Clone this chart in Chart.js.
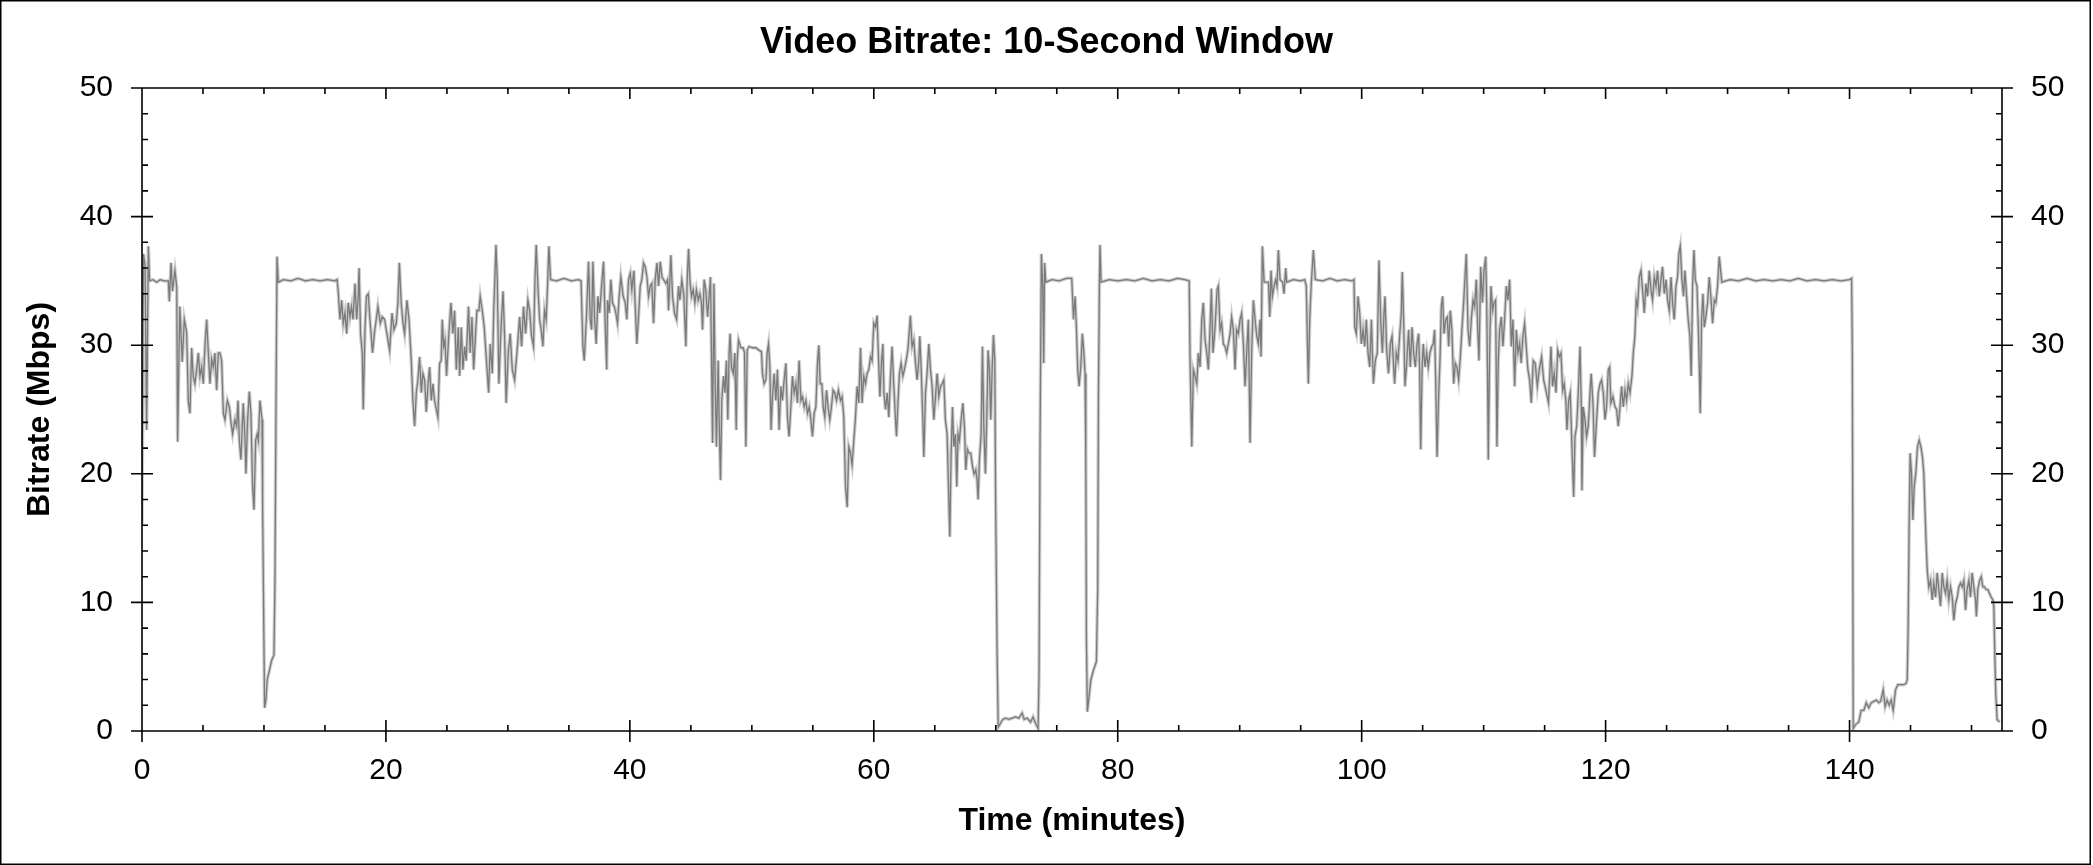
<!DOCTYPE html>
<html>
<head>
<meta charset="utf-8">
<title>Video Bitrate: 10-Second Window</title>
<script src="https://cdn.jsdelivr.net/npm/chart.js@4.4.1/dist/chart.umd.min.js"></script>
<style>
  html, body { margin: 0; padding: 0; background: #fff; }
  #bitrateChart { display: block; }
</style>
</head>
<body>
<canvas id="bitrateChart" width="2093" height="865"></canvas>
<script>
// [minute, Mbps]
const bitrateTrace = [
  [0.00,16.0],[0.12,37.1],[0.25,36.2],[0.38,23.4],[0.52,37.7],[0.62,35.0],[0.9,35.1],[1.2,34.9],[1.5,35.1],[1.8,35.0],
  [2.16,35.0],[2.24,33.4],[2.38,36.4],[2.5,34.2],[2.7,35.8],[2.85,34.5],[2.92,22.5],[3.1,33.0],[3.3,28.7],[3.47,32.0],
  [3.66,31.0],[3.8,25.6],[3.93,24.7],[4.07,29.8],[4.2,27.6],[4.34,27.0],[4.48,28.1],[4.62,29.4],[4.75,27.6],[4.89,28.3],
  [5.03,27.0],[5.16,29.9],[5.3,32.0],[5.44,29.4],[5.57,27.0],[5.71,28.9],[5.85,28.3],[5.98,29.4],[6.12,26.5],[6.26,29.4],
  [6.39,29.4],[6.53,28.8],[6.67,24.7],[6.8,24.2],[7.0,25.7],[7.16,25.2],[7.27,24.2],[7.43,23.1],[7.62,24.2],[7.76,23.7],
  [7.87,25.7],[7.98,22.6],[8.11,21.1],[8.3,25.5],[8.44,22.9],[8.52,20.0],[8.66,24.2],[8.8,26.4],[8.93,24.7],[9.07,19.0],
  [9.18,17.2],[9.32,22.6],[9.45,23.1],[9.54,22.6],[9.67,25.7],[9.84,24.2],[9.89,17.4],[10.0,6.6],[10.05,1.8],[10.16,2.4],
  [10.27,4.0],[10.44,4.7],[10.63,5.5],[10.82,5.9],[10.9,11.5],[10.98,24.2],[11.07,36.9],[11.17,34.9],
  [11.6,35.1],[12.2,35.0],[12.8,35.2],[13.4,35.0],[14.0,35.1],[14.6,35.0],[15.2,35.1],[15.8,35.0],[16.0,35.1],
  [16.1,34.0],[16.23,32.0],[16.37,33.5],[16.5,31.7],[16.64,32.5],[16.78,30.9],[16.91,33.3],[17.05,32.2],[17.18,33.0],[17.3,32.0],
  [17.46,34.8],[17.6,32.0],[17.73,33.8],[17.8,36.0],[17.92,30.9],[18.06,29.4],[18.14,25.0],[18.28,31.2],[18.4,33.8],[18.55,34.0],
  [18.69,32.0],[18.9,29.4],[19.05,30.9],[19.34,33.0],[19.54,31.7],[19.7,32.2],[19.89,32.0],[20.08,30.9],[20.3,29.6],[20.5,32.5],
  [20.66,31.2],[20.85,31.7],[20.98,33.3],[21.1,36.4],[21.25,33.3],[21.4,31.7],[21.53,30.9],[21.72,33.5],[21.89,32.0],[22.08,28.8],
  [22.21,25.7],[22.35,23.7],[22.49,26.3],[22.62,27.3],[22.76,29.1],[22.9,26.3],[23.03,27.8],[23.17,27.3],[23.31,24.8],[23.44,26.8],
  [23.58,28.3],[23.72,25.7],[23.85,27.0],[23.99,25.7],[24.13,25.0],[24.26,24.4],[24.4,28.6],[24.53,28.8],[24.62,32.0],[24.73,29.9],
  [24.84,30.4],[24.97,27.6],[25.16,30.9],[25.33,33.3],[25.49,30.9],[25.63,32.7],[25.77,28.1],[25.93,31.4],[26.04,27.6],[26.18,31.4],
  [26.31,28.1],[26.45,29.9],[26.58,28.8],[26.77,33.0],[26.91,29.4],[27.05,32.2],[27.19,28.1],[27.35,30.9],[27.46,32.7],[27.62,32.7],
  [27.73,33.8],[27.9,32.7],[28.06,31.4],[28.22,29.1],[28.42,26.3],[28.55,30.1],[28.72,27.8],[28.85,33.0],[28.93,35.1],[29.02,37.8],
  [29.13,35.1],[29.26,27.0],[29.43,31.2],[29.6,34.2],[29.73,30.7],[29.86,25.5],[30.03,29.4],[30.19,30.9],[30.36,28.1],[30.55,27.3],
  [30.74,29.4],[30.96,32.2],[31.12,29.9],[31.28,33.0],[31.45,30.9],[31.64,33.5],[31.78,32.7],[31.94,30.7],[32.1,29.9],[32.21,34.8],
  [32.32,37.8],[32.46,34.6],[32.6,32.0],[32.73,31.2],[32.87,29.9],[33.0,32.7],[33.14,32.0],[33.25,34.6],[33.36,37.7],[33.5,35.1],
  [34.0,35.0],[34.6,35.2],[35.2,35.0],[35.8,35.1],[36.0,35.0],
  [36.15,29.9],[36.26,28.8],[36.43,32.0],[36.61,36.5],[36.75,32.0],[36.86,31.2],[36.97,36.5],[37.11,32.0],[37.24,30.1],[37.38,33.8],
  [37.52,32.5],[37.68,34.6],[37.84,36.5],[38.0,30.9],[38.1,28.1],[38.17,33.5],[38.31,32.5],[38.44,35.1],[38.58,33.3],[38.72,33.0],
  [38.85,32.5],[38.99,31.7],[39.12,33.8],[39.26,35.3],[39.45,33.8],[39.62,33.3],[39.75,32.0],[39.89,35.1],[40.03,35.6],[40.16,34.3],
  [40.33,35.8],[40.44,33.0],[40.57,30.1],[40.71,32.2],[40.85,34.6],[40.98,35.1],[41.12,36.4],[41.26,36.1],[41.4,35.3],[41.53,33.8],
  [41.67,34.6],[41.8,34.8],[41.94,31.7],[42.08,35.1],[42.22,36.4],[42.35,34.6],[42.49,36.5],[42.63,35.3],[42.76,35.1],[42.95,34.8],
  [43.09,35.1],[43.17,32.7],[43.36,37.0],[43.5,33.8],[43.66,32.5],[43.83,32.0],[43.99,34.6],[44.1,33.5],[44.26,35.1],[44.43,33.8],
  [44.59,29.9],[44.7,35.1],[44.81,37.5],[44.92,35.1],[45.05,33.8],[45.19,34.3],[45.33,33.3],[45.46,34.3],[45.6,33.5],[45.74,34.0],
  [45.87,33.3],[45.96,31.2],[46.09,35.1],[46.23,34.3],[46.37,32.2],[46.5,33.8],[46.61,35.3],[46.69,29.4],[46.78,22.4],[46.89,34.8],
  [47.0,26.8],[47.1,22.1],[47.24,28.8],[47.32,24.2],[47.43,19.5],[47.54,25.7],[47.68,27.6],[47.79,26.3],[47.92,28.8],[48.03,24.2],
  [48.14,29.4],[48.22,30.9],[48.33,28.3],[48.47,27.8],[48.61,29.4],[48.72,23.4],[48.8,28.8],[48.91,30.4],[49.1,29.8],[49.29,29.8],
  [49.4,29.4],[49.51,22.1],[49.62,29.6],[49.77,29.9],[50.05,29.8],[50.33,29.8],[50.6,29.6],[50.79,29.5],[50.87,27.8],[51.01,27.0],
  [51.15,27.3],[51.26,29.4],[51.37,30.1],[51.48,28.3],[51.58,23.4],[51.69,26.0],[51.83,27.8],[51.97,25.7],[52.1,28.1],[52.24,23.4],
  [52.38,26.8],[52.51,25.7],[52.65,27.3],[52.79,28.6],[52.92,24.4],[53.05,22.9],[53.2,25.2],[53.33,27.6],[53.47,26.3],[53.61,27.0],
  [53.74,25.5],[53.88,28.8],[54.02,25.7],[54.15,26.0],[54.29,25.2],[54.43,25.7],[54.56,24.7],[54.7,25.2],[54.84,24.2],[54.97,22.9],
  [55.11,24.7],[55.25,25.2],[55.38,28.6],[55.49,30.0],[55.6,27.0],[55.74,27.0],[55.85,25.2],[55.98,24.4],[56.12,26.5],[56.25,25.2],
  [56.39,24.2],[56.53,25.2],[56.66,26.5],[56.8,26.3],[56.94,25.7],[57.1,26.5],[57.27,25.7],[57.4,26.0],[57.54,24.4],[57.68,19.0],
  [57.82,17.4],[57.95,22.1],[58.09,21.6],[58.22,20.7],[58.36,22.6],[58.5,24.4],[58.63,26.8],[58.77,25.5],[58.91,29.8],[59.04,25.5],
  [59.18,27.6],[59.32,27.0],[59.45,27.8],[59.59,28.1],[59.73,29.1],[59.86,28.8],[60.0,31.7],[60.14,31.4],[60.27,32.3],[60.36,29.6],
  [60.5,26.0],[60.63,28.6],[60.74,30.1],[60.83,26.3],[60.96,25.0],[61.1,26.3],[61.23,24.4],[61.37,27.6],[61.5,29.9],[61.64,26.8],
  [61.78,24.2],[61.86,22.9],[61.99,25.7],[62.1,27.8],[62.24,28.6],[62.38,27.6],[62.51,28.1],[62.65,28.8],[62.79,29.6],[62.92,31.2],
  [63.0,32.3],[63.14,29.9],[63.28,30.4],[63.42,28.6],[63.55,27.3],[63.69,28.8],[63.77,30.7],[63.88,28.3],[64.02,24.2],[64.1,21.3],
  [64.24,26.3],[64.37,27.8],[64.51,30.1],[64.65,28.1],[64.78,26.8],[64.92,24.2],[65.06,26.0],[65.19,27.8],[65.33,26.0],[65.47,26.8],
  [65.6,27.0],[65.74,27.3],[65.87,24.2],[66.01,23.1],[66.15,18.0],[66.23,15.1],[66.34,21.6],[66.45,25.2],[66.56,22.1],[66.7,23.1],
  [66.8,19.0],[66.91,23.1],[67.02,22.6],[67.16,24.2],[67.3,25.5],[67.43,23.7],[67.54,20.3],[67.68,21.9],[67.8,21.6],[67.95,21.6],
  [68.09,20.6],[68.22,20.0],[68.36,20.3],[68.47,19.5],[68.55,18.0],[68.66,21.1],[68.8,23.1],[68.91,29.9],[69.02,23.7],[69.15,20.0],
  [69.26,24.2],[69.37,29.6],[69.48,28.1],[69.59,24.2],[69.7,28.1],[69.81,30.8],[69.92,28.8],[69.99,17.7],[70.11,6.0],[70.2,0.3],
  [70.39,0.6],[70.58,0.9],[70.8,1.0],[71.07,0.9],[71.34,1.0],[71.61,1.1],[71.89,1.0],[72.16,1.4],[72.33,0.9],[72.57,1.0],
  [72.85,0.7],[73.06,1.1],[73.25,0.6],[73.47,0.2],[73.55,4.5],[73.63,22.6],[73.74,37.1],[73.85,34.6],[73.93,28.6],[74.0,36.4],
  [74.1,34.9],[74.6,35.1],[75.2,35.0],[75.8,35.2],[76.23,35.2],
  [76.37,32.0],[76.5,33.8],[76.61,31.4],[76.72,28.1],[76.83,26.8],[76.97,28.3],[77.1,30.9],[77.21,29.6],[77.32,27.8],[77.38,21.6],
  [77.43,7.3],[77.51,1.5],[77.65,2.7],[77.8,4.0],[78.0,4.7],[78.25,5.4],[78.36,11.2],[78.42,26.3],[78.5,35.1],[78.55,37.8],
  [78.63,34.9],[79.3,35.1],[80.0,35.0],[80.7,35.1],[81.4,35.0],[82.1,35.2],[82.8,35.0],[83.5,35.1],[84.2,35.0],[84.9,35.2],
  [85.5,35.1],[85.86,35.0],
  [85.93,28.8],[86.07,22.1],[86.2,28.1],[86.34,27.6],[86.48,27.0],[86.61,29.4],[86.75,28.3],[86.89,32.0],[87.02,33.3],[87.16,30.4],
  [87.3,29.4],[87.43,28.1],[87.57,31.4],[87.68,34.4],[87.81,29.4],[87.98,31.4],[88.14,34.3],[88.25,34.6],[88.39,31.2],[88.52,31.7],
  [88.66,30.1],[88.8,29.9],[88.93,29.4],[89.07,30.1],[89.21,30.9],[89.34,32.2],[89.48,31.2],[89.62,28.1],[89.75,31.2],[89.89,30.9],
  [90.03,32.0],[90.16,32.5],[90.3,30.1],[90.44,26.8],[90.57,29.4],[90.71,32.0],[90.85,22.4],[90.98,29.4],[91.12,33.5],[91.26,32.0],
  [91.4,30.7],[91.53,30.1],[91.67,32.0],[91.75,29.1],[91.86,37.7],[92.0,34.9],[92.2,34.9],[92.36,34.9],[92.46,32.2],[92.57,35.8],
  [92.68,33.8],[92.82,34.6],[92.95,35.1],[93.06,34.6],[93.17,37.4],[93.31,35.1],[93.52,34.9],[93.63,34.0],[93.77,36.0],[93.85,34.9],
  [94.4,35.1],[95.0,35.0],[95.33,35.1],[95.46,34.6],[95.54,30.7],[95.63,27.0],[95.74,32.0],[95.87,34.8],[96.04,37.4],[96.2,35.1],
  [96.8,35.0],[97.4,35.2],[98.0,35.0],[98.6,35.1],[99.2,35.0],[99.37,35.1],
  [99.43,31.4],[99.56,30.9],[99.7,33.8],[99.84,32.5],[99.97,30.1],[100.11,31.2],[100.25,29.9],[100.38,32.0],[100.52,29.4],[100.66,28.3],
  [100.8,32.0],[100.96,27.0],[101.12,28.8],[101.28,29.4],[101.42,36.6],[101.56,32.0],[101.7,29.4],[101.83,32.5],[101.91,33.8],[102.05,29.6],
  [102.2,27.8],[102.35,30.1],[102.49,30.7],[102.62,28.3],[102.7,27.0],[102.84,29.4],[102.98,28.8],[103.11,30.7],[103.25,32.5],[103.33,35.7],
  [103.44,32.0],[103.55,26.8],[103.69,28.6],[103.85,31.2],[103.99,28.3],[104.13,31.4],[104.26,29.4],[104.4,28.3],[104.54,30.1],[104.67,30.9],
  [104.75,28.1],[104.84,21.9],[104.95,28.1],[105.05,30.1],[105.19,28.3],[105.33,29.4],[105.46,28.3],[105.6,29.4],[105.74,29.9],[105.87,30.1],
  [105.98,31.2],[106.07,27.3],[106.18,21.3],[106.31,26.0],[106.42,28.8],[106.53,33.0],[106.64,33.8],[106.75,30.9],[106.89,32.0],[107.02,32.2],
  [107.13,29.9],[107.27,32.7],[107.4,31.2],[107.54,27.0],[107.68,28.6],[107.81,28.3],[107.95,27.3],[108.09,29.1],[108.22,31.2],[108.36,33.3],
  [108.5,35.8],[108.58,37.1],[108.72,31.2],[108.85,29.9],[108.99,32.0],[109.13,33.5],[109.26,33.0],[109.4,35.1],[109.51,31.4],[109.62,28.8],
  [109.76,36.1],[109.9,33.3],[110.03,35.8],[110.17,36.9],[110.25,33.3],[110.33,26.8],[110.38,21.1],[110.49,29.4],[110.6,34.6],[110.74,32.7],
  [110.85,33.3],[110.98,33.5],[111.09,22.1],[111.2,28.8],[111.31,31.2],[111.45,32.2],[111.58,29.9],[111.72,32.0],[111.86,34.6],[111.99,33.5],
  [112.13,35.1],[112.27,29.9],[112.4,32.0],[112.54,26.8],[112.68,31.2],[112.81,29.4],[112.95,30.1],[113.08,28.6],[113.22,30.7],[113.36,31.7],
  [113.49,29.9],[113.63,28.1],[113.77,27.3],[113.91,25.5],[114.07,28.8],[114.23,28.6],[114.4,26.8],[114.56,28.1],[114.75,29.1],[114.92,27.3],
  [115.1,26.5],[115.32,25.5],[115.52,29.9],[115.65,26.8],[115.79,27.8],[115.93,26.3],[116.07,29.6],[116.2,29.1],[116.34,29.4],[116.48,26.5],
  [116.61,27.0],[116.75,25.5],[116.83,23.4],[116.97,25.7],[117.1,26.3],[117.24,22.1],[117.38,18.2],[117.49,22.9],[117.63,23.7],[117.76,26.3],
  [117.9,29.9],[118.01,25.2],[118.06,18.7],[118.17,25.2],[118.31,24.2],[118.44,22.9],[118.58,23.7],[118.72,26.3],[118.82,27.8],[118.96,25.5],
  [119.09,21.3],[119.23,23.7],[119.4,26.3],[119.54,27.0],[119.67,27.3],[119.81,26.3],[119.95,24.2],[120.08,25.2],[120.22,28.1],[120.33,28.3],
  [120.43,25.5],[120.6,26.0],[120.77,25.2],[120.9,25.0],[121.04,23.7],[121.18,25.2],[121.31,26.8],[121.45,25.2],[121.59,26.5],[121.72,25.7],
  [121.86,27.0],[122.0,26.3],[122.16,27.6],[122.27,29.4],[122.4,30.7],[122.51,33.5],[122.62,33.0],[122.76,35.3],[122.9,35.8],[123.03,34.3],
  [123.17,32.5],[123.31,34.8],[123.44,33.8],[123.58,35.8],[123.72,34.3],[123.85,33.5],[123.99,35.3],[124.13,34.6],[124.26,35.8],[124.4,33.8],
  [124.54,35.1],[124.67,36.1],[124.81,34.0],[124.95,35.1],[125.08,33.5],[125.22,32.7],[125.36,35.3],[125.49,33.3],[125.63,32.0],[125.77,34.6],
  [125.9,35.3],[126.0,37.1],[126.12,37.7],[126.26,35.1],[126.39,33.8],[126.5,35.8],[126.63,34.0],[126.77,32.0],[126.91,30.7],[127.02,27.6],
  [127.13,34.6],[127.24,37.4],[127.35,35.1],[127.49,34.6],[127.6,31.4],[127.68,28.3],[127.76,24.7],[127.87,32.0],[127.98,34.0],[128.09,31.4],
  [128.22,32.2],[128.36,33.3],[128.5,35.3],[128.63,33.8],[128.77,31.7],[128.91,33.5],[129.04,33.3],[129.18,34.6],[129.32,36.9],[129.43,35.8],
  [129.53,34.9],[130.2,35.1],[130.9,35.0],[131.6,35.2],[132.3,35.0],[133.0,35.1],[133.7,35.0],[134.4,35.1],[135.1,35.0],[135.8,35.2],
  [136.5,35.0],[137.2,35.1],[137.9,35.0],[138.6,35.1],[139.3,35.0],[140.0,35.1],[140.17,35.2],
  [140.23,29.4],[140.3,0.2],[140.49,0.5],[140.76,0.7],[140.95,1.6],[141.17,1.6],[141.37,2.2],[141.58,1.8],[141.78,2.2],[141.99,2.3],
  [142.2,2.4],[142.4,2.2],[142.55,2.3],[142.76,3.2],[142.92,1.9],[143.08,2.4],[143.25,2.0],[143.41,2.4],[143.58,1.6],[143.77,3.2],
  [143.96,3.6],[144.24,3.6],[144.45,3.6],[144.64,3.7],[144.73,4.0],[144.81,8.4],[144.89,16.4],[144.97,21.6],[145.08,20.0],[145.19,16.4],
  [145.3,19.0],[145.43,20.0],[145.57,22.1],[145.71,22.6],[145.85,22.1],[145.98,21.3],[146.09,20.0],[146.17,17.7],[146.26,15.1],[146.37,12.5],
  [146.5,11.2],[146.64,11.7],[146.78,10.2],[146.91,11.5],[147.05,10.4],[147.19,12.3],[147.32,11.0],[147.46,9.7],[147.6,12.3],[147.73,11.2],
  [147.87,10.7],[148.0,11.7],[148.14,10.2],[148.28,11.2],[148.42,10.4],[148.55,8.6],[148.69,9.9],[148.83,10.4],[148.96,11.2],[149.1,11.5],
  [149.24,11.2],[149.37,11.7],[149.51,9.4],[149.64,11.0],[149.78,11.7],[149.92,10.4],[150.05,12.3],[150.19,11.2],[150.33,10.2],[150.4,8.9],
  [150.52,11.0],[150.66,11.7],[150.8,12.0],[150.93,11.2],[151.07,11.2],[151.2,11.0],[151.34,11.0],[151.48,10.7],[151.61,10.4],[151.75,10.2],
  [151.83,9.7],[151.91,6.0],[151.99,2.9],[152.1,0.9],[152.3,0.7]
];

const xMajorTicks = [0, 20, 40, 60, 80, 100, 120, 140];
const xMinorTicks = [5, 10, 15, 25, 30, 35, 45, 50, 55, 65, 70, 75, 85, 90, 95, 105, 110, 115, 125, 130, 135, 145, 150];
const yMajorTicks = [0, 10, 20, 30, 40, 50];
const yMinorTicks = [2, 4, 6, 8, 12, 14, 16, 18, 22, 24, 26, 28, 32, 34, 36, 38, 42, 44, 46, 48];

const FONT = "'Liberation Sans', Arial, sans-serif";
const points = bitrateTrace.map(p => ({ x: p[0], y: p[1] }));

// plot box: left 142, right 2002, top 88, bottom 731
function fixWidth(w) {
  return scale => { scale.width = w; };
}
function useTicks(list) {
  return scale => { scale.ticks = list.map(v => ({ value: v })); };
}

const whiteBackground = {
  id: 'whiteBackground',
  beforeDraw(chart) {
    const ctx = chart.ctx;
    ctx.save();
    ctx.fillStyle = '#fff';
    ctx.fillRect(0, 0, chart.width, chart.height);
    ctx.restore();
  }
};

// frame, crossing major ticks and inward minor ticks on all four sides
const axisFrame = {
  id: 'axisFrame',
  afterDatasetsDraw(chart) {
    const { ctx, chartArea: a } = chart;
    const xs = chart.scales.x;
    const ys = chart.scales.y;
    ctx.save();
    ctx.strokeStyle = '#000';
    ctx.lineWidth = 1.6;
    ctx.beginPath();
    ctx.rect(a.left, a.top, a.right - a.left, a.bottom - a.top);

    yMajorTicks.forEach(v => {
      const py = ys.getPixelForValue(v);
      ctx.moveTo(a.left - 11, py); ctx.lineTo(a.left + 11, py);
      ctx.moveTo(a.right - 11, py); ctx.lineTo(a.right + 11, py);
    });
    yMinorTicks.forEach(v => {
      const py = ys.getPixelForValue(v);
      ctx.moveTo(a.left, py); ctx.lineTo(a.left + 6, py);
      ctx.moveTo(a.right - 6, py); ctx.lineTo(a.right, py);
    });
    xMajorTicks.forEach(v => {
      const px = xs.getPixelForValue(v);
      ctx.moveTo(px, a.bottom - 11); ctx.lineTo(px, a.bottom + 11);
      ctx.moveTo(px, a.top); ctx.lineTo(px, a.top + 11);
    });
    xMinorTicks.forEach(v => {
      const px = xs.getPixelForValue(v);
      ctx.moveTo(px, a.bottom - 6); ctx.lineTo(px, a.bottom);
      ctx.moveTo(px, a.top); ctx.lineTo(px, a.top + 6);
    });
    ctx.stroke();

    // outer border of the picture
    ctx.lineWidth = 1.5;
    ctx.strokeRect(0.75, 0.75, 2089.5, 863.5);
    ctx.restore();
  }
};

const ctx = document.getElementById('bitrateChart').getContext('2d');
const bitrateChart = new Chart(ctx, {
  type: 'line',
  data: {
    datasets: [
      {
        label: 'Bitrate',
        data: points,
        borderColor: '#7a7a7a',
        borderWidth: 1.3,
        pointRadius: 0,
        tension: 0,
        order: 1
      },
      {
        // pale halo behind the trace
        label: 'band',
        data: points,
        borderColor: '#cdcdcd',
        borderWidth: 3.5,
        pointRadius: 0,
        tension: 0,
        order: 2
      }
    ]
  },
  options: {
    responsive: false,
    animation: false,
    devicePixelRatio: 1,
    layout: { padding: 0 },
    plugins: {
      legend: { display: false },
      tooltip: { enabled: false },
      title: {
        display: true,
        text: 'Video Bitrate: 10-Second Window',
        color: '#000',
        font: { family: FONT, size: 36, weight: 'bold', lineHeight: 1.2 },
        padding: { top: 21, bottom: 23.8 }
      }
    },
    scales: {
      x: {
        type: 'linear',
        position: 'bottom',
        min: 0,
        max: 152.5,
        afterBuildTicks: useTicks(xMajorTicks),
        afterFit: scale => { scale.height = 134; },
        grid: { display: false, drawTicks: false },
        border: { display: false },
        ticks: {
          color: '#000',
          padding: 22,
          maxRotation: 0,
          font: { family: FONT, size: 30, lineHeight: 1.2 }
        },
        title: {
          display: true,
          text: 'Time (minutes)',
          color: '#000',
          font: { family: FONT, size: 32, weight: 'bold', lineHeight: 1.2 },
          padding: { top: 0, bottom: 25 }
        }
      },
      y: {
        position: 'left',
        min: 0,
        max: 50,
        afterBuildTicks: useTicks(yMajorTicks),
        afterFit: fixWidth(142),
        grid: { display: false, drawTicks: false },
        border: { display: false },
        ticks: {
          color: '#000',
          padding: 29,
          font: { family: FONT, size: 30, lineHeight: 1.2 }
        },
        title: {
          display: true,
          text: 'Bitrate (Mbps)',
          color: '#000',
          font: { family: FONT, size: 32, weight: 'bold', lineHeight: 1.2 },
          padding: { top: 21, bottom: 0 }
        }
      },
      y2: {
        position: 'right',
        min: 0,
        max: 50,
        afterBuildTicks: useTicks(yMajorTicks),
        afterFit: fixWidth(91),
        grid: { display: false, drawTicks: false },
        border: { display: false },
        ticks: {
          color: '#000',
          padding: 29,
          font: { family: FONT, size: 30, lineHeight: 1.2 }
        }
      }
    }
  },
  plugins: [whiteBackground, axisFrame]
});
</script>
</body>
</html>
